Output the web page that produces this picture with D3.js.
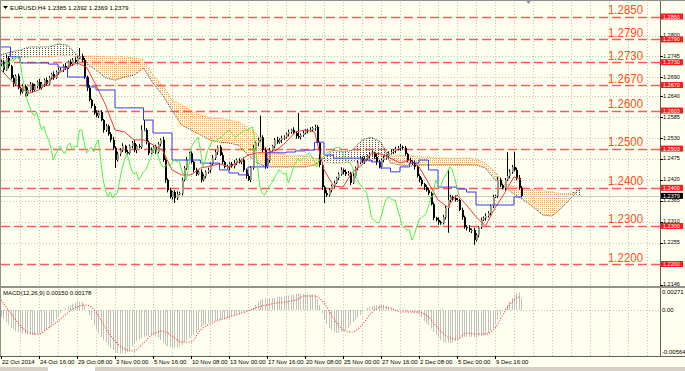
<!DOCTYPE html>
<html>
<head>
<meta charset="utf-8">
<script src="https://cdn.jsdelivr.net/npm/d3@7"></script>
<style>
  body { margin: 0; background: #fffff0; }
  svg { display: block; font-family: "Liberation Sans", Arial, sans-serif; }
</style>
</head>
<body>
<svg id="chart" width="685" height="371"></svg>
<script>
// ---- EURUSD H4 data ----
const firstOpen = 1.2725;
const closes = [
  1.2731,1.2710,1.2741,1.2720,1.2689,1.2673,1.2694,1.2662,1.2652,1.2667,
  1.2646,1.2657,1.2673,1.2657,1.2667,1.2678,1.2662,1.2673,1.2683,1.2673,
  1.2689,1.2699,1.2689,1.2704,1.2710,1.2710,1.2720,1.2715,1.2731,1.2725,
  1.2736,1.2731,1.2741,1.2746,1.2736,1.2691,1.2662,1.2631,1.2615,1.2597,
  1.2589,1.2599,1.2578,1.2552,1.2562,1.2541,1.2526,1.2505,1.2473,1.2489,
  1.2499,1.2510,1.2494,1.2491,1.2510,1.2518,1.2499,1.2510,1.2507,1.2552,
  1.2552,1.2520,1.2491,1.2499,1.2507,1.2494,1.2515,1.2526,1.2473,1.2421,
  1.2394,1.2376,1.2389,1.2373,1.2384,1.2386,1.2421,1.2452,1.2473,1.2491,
  1.2468,1.2447,1.2436,1.2442,1.2421,1.2431,1.2442,1.2447,1.2463,1.2478,
  1.2494,1.2507,1.2486,1.2468,1.2455,1.2455,1.2463,1.2457,1.2465,1.2473,
  1.2468,1.2473,1.2447,1.2431,1.2421,1.2452,1.2505,1.2518,1.2526,1.2533,
  1.2499,1.2455,1.2473,1.2499,1.2510,1.2526,1.2520,1.2526,1.2531,1.2533,
  1.2541,1.2547,1.2552,1.2544,1.2536,1.2533,1.2539,1.2544,1.2549,1.2552,
  1.2552,1.2557,1.2560,1.2518,1.2460,1.2402,1.2386,1.2381,1.2394,1.2405,
  1.2413,1.2426,1.2436,1.2447,1.2442,1.2436,1.2439,1.2413,1.2431,1.2452,
  1.2466,1.2478,1.2470,1.2476,1.2484,1.2489,1.2491,1.2481,1.2468,1.2455,
  1.2473,1.2478,1.2484,1.2491,1.2494,1.2497,1.2502,1.2505,1.2507,1.2505,
  1.2489,1.2473,1.2468,1.2465,1.2455,1.2431,1.2421,1.2410,1.2402,1.2394,
  1.2386,1.2357,1.2321,1.2316,1.2310,1.2308,1.2323,1.2347,1.2368,1.2376,
  1.2373,1.2368,1.2368,1.2342,1.2323,1.2297,1.2294,1.2289,1.2289,1.2263,
  1.2276,1.2297,1.2316,1.2321,1.2326,1.2334,1.2352,1.2376,1.2379,1.2421,
  1.2407,1.2400,1.2421,1.2431,1.2442,1.2455,1.2447,1.2426,1.2400,1.2379
];
// wick lengths beyond the body, in pips
const upWick = [
  6,4,8,5,3,7,4,6,3,5, 4,7,5,3,6,4,8,5,4,6, 5,3,7,4,6,5,4,8,3,6, 5,7,4,21,6,5,4,8,3,6,
  7,4,5,3,6,4,5,8,4,6, 5,7,3,6,4,5,8,4,6,12, 26,5,4,7,3,6,5,4,8,5, 4,6,3,5,7,4,6,5,8,4,
  5,3,6,4,7,5,4,6,3,8, 6,4,5,7,3,6,4,5,8,4, 5,3,7,4,6,5,8,4,6,57, 5,7,4,6,3,5,8,4,6,5,
  4,6,3,7,5,61,4,6,5,3, 7,4,6,5,3,6,4,8,5,4, 6,3,5,7,4,6,5,3,8,4, 5,6,4,7,3,5,6,4,8,5,
  4,6,3,5,7,4,6,5,8,4, 5,3,6,4,7,5,4,6,3,5, 6,4,5,3,7,4,6,5,79,6, 4,7,5,3,6,4,5,8,4,6,
  5,3,6,4,7,5,4,6,3,8, 6,4,5,63,7,5,40,6,8,5
];
const dnWick = [
  5,7,3,6,4,8,5,3,7,4, 6,5,4,7,3,6,5,4,8,5, 4,6,5,3,7,4,6,5,3,6, 5,4,7,3,6,5,8,4,6,5,
  4,6,3,7,5,4,6,5,21,4, 6,5,3,7,4,6,5,8,3,5, 4,6,5,3,7,5,4,6,5,8, 6,4,7,13,5,3,6,4,5,7,
  4,6,5,3,7,4,6,5,8,4, 5,7,3,6,4,5,8,4,6,5, 4,6,5,7,3,6,4,5,8,4, 6,5,4,7,3,6,5,4,8,5,
  4,6,5,3,7,4,6,5,3,6, 5,4,7,3,6,8,26,5,4,6, 5,3,6,4,7,5,4,6,3,5, 6,4,5,7,3,6,4,5,8,4,
  5,6,4,7,3,5,6,4,8,5, 4,6,3,5,7,4,6,5,8,4, 5,3,6,4,7,5,4,6,65,5, 6,4,5,3,7,4,6,5,8,13,
  4,6,5,3,7,4,6,5,3,6, 5,4,7,3,6,5,4,6,5,4
];

// Ichimoku lines, sampled every 4 bars (last sample = last bar)
const lineBars = d3.range(0, 217, 4).concat([219]);
const tenkan = [
  1.2710,1.2683,1.2662,1.2649,1.2657,1.2678,1.2699,1.2717,1.2728,1.2717,
  1.2670,1.2618,1.2552,1.2547,1.2526,1.2526,1.2513,1.2499,1.2447,1.2434,
  1.2434,1.2452,1.2457,1.2463,1.2455,1.2468,1.2486,1.2492,1.2492,1.2499,
  1.2520,1.2547,1.2552,1.2547,1.2447,1.2405,1.2402,1.2442,1.2460,1.2492,
  1.2489,1.2478,1.2465,1.2473,1.2455,1.2413,1.2368,1.2350,1.2381,1.2355,
  1.2324,1.2300,1.2347,1.2386,1.2429,1.2421
];
const kijun = [
  1.2770,1.2744,1.2728,1.2728,1.2728,1.2725,1.2717,1.2691,1.2691,1.2665,
  1.2657,1.2657,1.2610,1.2610,1.2610,1.2578,1.2544,1.2544,1.2473,1.2473,
  1.2473,1.2465,1.2465,1.2447,1.2439,1.2434,1.2455,1.2455,1.2492,1.2492,
  1.2494,1.2497,1.2499,1.2520,1.2486,1.2478,1.2478,1.2478,1.2473,1.2468,
  1.2452,1.2442,1.2455,1.2465,1.2473,1.2447,1.2402,1.2402,1.2397,1.2389,
  1.2355,1.2355,1.2355,1.2355,1.2376,1.2376
];
const chikouShift = 26;

// Kumo (already shifted 26 bars forward), sampled every 4 bars
const cloudBars = d3.range(0, 245, 4);
const spanA = [
  1.2731,1.2736,1.2741,1.2744,1.2744,1.2744,1.2746,1.2749,1.2744,1.2746,
  1.2746,1.2744,1.2744,1.2744,1.2741,1.2736,1.2696,1.2670,1.2631,1.2618,
  1.2604,1.2591,1.2583,1.2583,1.2578,1.2573,1.2560,1.2539,1.2499,1.2492,
  1.2486,1.2486,1.2484,1.2478,1.2468,1.2465,1.2465,1.2468,1.2468,1.2470,
  1.2478,1.2486,1.2486,1.2484,1.2481,1.2481,1.2478,1.2478,1.2478,1.2478,
  1.2476,1.2465,1.2442,1.2413,1.2402,1.2400,1.2394,1.2392,1.2389,1.2384,
  1.2386,1.2379
];
const spanB = [
  1.2749,1.2757,1.2762,1.2770,1.2770,1.2770,1.2778,1.2775,1.2749,1.2725,
  1.2710,1.2689,1.2683,1.2691,1.2696,1.2715,1.2675,1.2644,1.2604,1.2565,
  1.2552,1.2539,1.2526,1.2520,1.2518,1.2512,1.2486,1.2465,1.2455,1.2455,
  1.2455,1.2455,1.2455,1.2460,1.2478,1.2499,1.2494,1.2499,1.2526,1.2533,
  1.2520,1.2465,1.2460,1.2457,1.2460,1.2460,1.2460,1.2460,1.2460,1.2460,
  1.2460,1.2452,1.2421,1.2402,1.2384,1.2368,1.2350,1.2329,1.2326,1.2347,
  1.2373,1.2400
];

// MACD(12,26,9): histogram per bar, signal sampled like the lines
const macdHist = [
  -0.00090,-0.00120,-0.00155,-0.00190,-0.00232,-0.00250,-0.00270,-0.00285,-0.00297,-0.00305,
  -0.00312,-0.00318,-0.00320,-0.00322,-0.00323,-0.00318,-0.00305,-0.00290,-0.00270,-0.00258,
  -0.00235,-0.00194,-0.00160,-0.00120,-0.00080,-0.00039,-0.00005,0.00026,0.00045,0.00065,
  0.00080,0.00092,0.00103,0.00108,0.00103,0.00060,0.00000,-0.00060,-0.00129,-0.00195,
  -0.00258,-0.00305,-0.00350,-0.00387,-0.00420,-0.00455,-0.00490,-0.00515,-0.00540,-0.00555,
  -0.00560,-0.00558,-0.00555,-0.00540,-0.00516,-0.00470,-0.00426,-0.00400,-0.00378,-0.00360,
  -0.00348,-0.00338,-0.00330,-0.00323,-0.00330,-0.00345,-0.00361,-0.00390,-0.00420,-0.00452,
  -0.00470,-0.00482,-0.00490,-0.00488,-0.00482,-0.00477,-0.00455,-0.00420,-0.00387,-0.00365,
  -0.00340,-0.00318,-0.00297,-0.00258,-0.00219,-0.00200,-0.00185,-0.00170,-0.00155,-0.00148,
  -0.00140,-0.00134,-0.00129,-0.00122,-0.00115,-0.00108,-0.00103,-0.00090,-0.00075,-0.00055,
  -0.00039,-0.00030,-0.00020,-0.00013,-0.00006,0.00000,0.00030,0.00065,0.00100,0.00129,
  0.00140,0.00150,0.00155,0.00152,0.00158,0.00155,0.00162,0.00168,0.00172,0.00176,
  0.00181,0.00186,0.00192,0.00198,0.00206,0.00208,0.00210,0.00206,0.00206,0.00204,
  0.00200,0.00197,0.00194,0.00140,0.00065,-0.00040,-0.00129,-0.00185,-0.00232,-0.00262,
  -0.00285,-0.00297,-0.00295,-0.00285,-0.00272,-0.00258,-0.00230,-0.00195,-0.00155,-0.00125,
  -0.00095,-0.00065,-0.00035,-0.00005,0.00026,0.00040,0.00052,0.00060,0.00065,0.00068,
  0.00066,0.00065,0.00055,0.00040,0.00026,0.00015,0.00005,-0.00005,-0.00013,-0.00018,
  -0.00022,-0.00024,-0.00026,-0.00030,-0.00040,-0.00052,-0.00065,-0.00100,-0.00140,-0.00170,
  -0.00194,-0.00240,-0.00285,-0.00323,-0.00355,-0.00390,-0.00413,-0.00420,-0.00424,-0.00426,
  -0.00420,-0.00405,-0.00387,-0.00370,-0.00358,-0.00348,-0.00345,-0.00346,-0.00348,-0.00350,
  -0.00348,-0.00345,-0.00340,-0.00332,-0.00323,-0.00300,-0.00270,-0.00232,-0.00180,-0.00120,
  -0.00065,-0.00010,0.00030,0.00065,0.00110,0.00155,0.00190,0.00219,0.00225,0.00150
];
const macdSignal = [
  0.00129,-0.00039,-0.00194,-0.00297,-0.00310,-0.00232,-0.00142,-0.00039,0.00039,0.00065,
  -0.00026,-0.00232,-0.00400,-0.00503,-0.00529,-0.00426,-0.00310,-0.00271,-0.00336,-0.00413,
  -0.00413,-0.00258,-0.00181,-0.00129,-0.00090,-0.00052,-0.00013,0.00039,0.00065,0.00090,
  0.00103,0.00129,0.00181,0.00181,0.00090,-0.00103,-0.00258,-0.00284,-0.00194,-0.00039,
  0.00039,0.00026,-0.00026,-0.00026,-0.00026,-0.00090,-0.00232,-0.00348,-0.00374,-0.00297,
  -0.00310,-0.00310,-0.00232,-0.00026,0.00129,0.00178
];

// horizontal levels drawn by the trader
const levels = [1.2850, 1.2790, 1.2730, 1.2670, 1.2603, 1.2503, 1.2400, 1.2300, 1.2200];
const levelText = ["1.2850","1.2790","1.2730","1.2670","1.2600","1.2500","1.2400","1.2300","1.2200"];
const levelTag = ["1.2850","1.2790","1.2730","1.2670","1.2603","1.2503","1.2400","1.2300","1.2200"];

const priceTicks = [1.2800, 1.2745, 1.2690, 1.2640, 1.2585, 1.2530, 1.2475, 1.2420, 1.2365, 1.2310, 1.2255, 1.2146];
const lastPrice = 1.2379;

const timeBars = [0, 16, 32, 48, 64, 80, 96, 112, 128, 144, 160, 176, 192, 208];
const timeLabels = ["22 Oct 2014","24 Oct 16:00","29 Oct 08:00","3 Nov 00:00","5 Nov 16:00","10 Nov 08:00",
  "13 Nov 00:00","17 Nov 16:00","20 Nov 08:00","25 Nov 00:00","27 Nov 16:00","2 Dec 08:00","5 Dec 00:00","9 Dec 16:00"];
const macdTicks = [0.00271, 0.00, -0.00564];
const macdTickText = ["0.00271", "0.00", "-0.00564"];

// ---- layout ----
const svg = d3.select("#chart");
const plotR = 660, mainTop = 2, mainBot = 286, macdTop = 289, macdBot = 356;
const x = d3.scaleLinear().domain([0, 278]).range([1, 661.25]);
const y = d3.scaleLinear().domain([1.2850, 1.2200]).range([16.5, 264]);
const ym = d3.scaleLinear().domain([0.00271, -0.00564]).range([289, 353.7]);
const px = v => Math.round(v) + 0.5;

svg.append("rect").attr("width", 685).attr("height", 371).attr("fill", "#fffff0");

const defs = svg.append("defs");
const hatchA = defs.append("pattern").attr("id", "hatchA").attr("patternUnits", "userSpaceOnUse")
  .attr("width", 2).attr("height", 2);
hatchA.append("rect").attr("width", 1).attr("height", 1).attr("fill", "#f7ab55");
const hatchB = defs.append("pattern").attr("id", "hatchB").attr("patternUnits", "userSpaceOnUse")
  .attr("width", 3).attr("height", 2);
hatchB.append("rect").attr("width", 1).attr("height", 1).attr("fill", "#505050");
defs.append("clipPath").attr("id", "mainClip").append("rect")
  .attr("x", 1).attr("y", mainTop).attr("width", plotR - 1).attr("height", mainBot - mainTop);
defs.append("clipPath").attr("id", "macdClip").append("rect")
  .attr("x", 1).attr("y", macdTop).attr("width", plotR - 1).attr("height", macdBot - macdTop);

// grid
const gridBars = d3.range(8, 279, 8);
const grid = svg.append("g").attr("stroke", "#c4c4b8").attr("stroke-dasharray", "1,2");
grid.selectAll(".gv").data(gridBars).join("line")
  .attr("x1", d => px(x(d))).attr("x2", d => px(x(d))).attr("y1", mainTop).attr("y2", mainBot);
grid.selectAll(".gm").data(gridBars).join("line")
  .attr("x1", d => px(x(d))).attr("x2", d => px(x(d))).attr("y1", macdTop).attr("y2", macdBot);
grid.selectAll(".gh").data(priceTicks.slice(0, -1)).join("line")
  .attr("x1", 1).attr("x2", plotR).attr("y1", d => px(y(d))).attr("y2", d => px(y(d)));
grid.append("line").attr("x1", 1).attr("x2", plotR).attr("y1", px(ym(0))).attr("y2", px(ym(0)));

const main = svg.append("g").attr("clip-path", "url(#mainClip)");

// kumo
const cloud = cloudBars.map((b, k) => ({ b, a: spanA[k], s: spanB[k] }));
main.append("path").datum(cloud).attr("fill", "url(#hatchA)")
  .attr("d", d3.area().x(d => x(d.b)).y0(d => y(d.s)).y1(d => y(Math.max(d.a, d.s))));
main.append("path").datum(cloud).attr("fill", "url(#hatchB)")
  .attr("d", d3.area().x(d => x(d.b)).y0(d => y(d.a)).y1(d => y(Math.max(d.a, d.s))));
main.append("path").datum(cloud).attr("fill", "none").attr("stroke", "#f0a050")
  .attr("stroke-dasharray", "1,1").attr("d", d3.line().x(d => x(d.b)).y(d => y(d.a)));
main.append("path").datum(cloud).attr("fill", "none").attr("stroke", "#444")
  .attr("stroke-dasharray", "1,1").attr("d", d3.line().x(d => x(d.b)).y(d => y(d.s)));

// trader levels and bid line
main.selectAll(".lvl").data(levels).join("line")
  .attr("x1", 1).attr("x2", plotR).attr("y1", d => px(y(d))).attr("y2", d => px(y(d)))
  .attr("stroke", "#ff5a5a").attr("stroke-width", 1.4).attr("stroke-dasharray", "9,4");
main.append("line").attr("x1", 1).attr("x2", plotR)
  .attr("y1", px(y(lastPrice))).attr("y2", px(y(lastPrice))).attr("stroke", "#c8c8c0");

// candles
const bars = closes.map((c, i) => {
  const o = i === 0 ? firstOpen : closes[i - 1];
  return { i, o, c, h: Math.max(o, c) + upWick[i] / 1e4, l: Math.min(o, c) - dnWick[i] / 1e4 };
});
const cg = main.append("g");
cg.selectAll("line").data(bars).join("line")
  .attr("x1", d => Math.round(x(d.i)) + 0.5).attr("x2", d => Math.round(x(d.i)) + 0.5)
  .attr("y1", d => y(d.h)).attr("y2", d => y(d.l)).attr("stroke", "#000");
cg.selectAll("rect").data(bars).join("rect")
  .attr("x", d => Math.round(x(d.i)))
  .attr("y", d => y(Math.max(d.o, d.c)))
  .attr("width", 2)
  .attr("height", d => Math.max(1, Math.abs(y(d.o) - y(d.c))))
  .attr("fill", d => d.c >= d.o ? "#9a9a86" : "#000");

// tenkan / kijun / chikou
main.append("path").datum(lineBars.map((b, k) => [b, tenkan[k]]))
  .attr("fill", "none").attr("stroke", "#f03a3a")
  .attr("d", d3.line().x(d => x(d[0])).y(d => y(d[1])));
main.append("path").datum(lineBars.map((b, k) => [b, kijun[k]]))
  .attr("fill", "none").attr("stroke", "#3a3af0")
  .attr("d", d3.line().curve(d3.curveStepAfter).x(d => x(d[0])).y(d => y(d[1])));
main.append("path").datum(closes.map((c, i) => [i - chikouShift, c]))
  .attr("fill", "none").attr("stroke", "#50ee50")
  .attr("d", d3.line().x(d => x(d[0])).y(d => y(d[1])));

// big level captions
svg.selectAll(".cap").data(levels).join("text")
  .attr("x", 608).attr("y", d => y(d) - 2.5)
  .attr("font-size", 13).attr("fill", "#ff4a1a")
  .attr("textLength", 35).attr("lengthAdjust", "spacingAndGlyphs")
  .text((d, k) => levelText[k]);

// frame lines
svg.append("line").attr("x1", plotR + 0.5).attr("x2", plotR + 0.5).attr("y1", 0).attr("y2", macdBot)
  .attr("stroke", "#606060");
svg.append("rect").attr("x", 0).attr("y", mainBot).attr("width", 685).attr("height", 2).attr("fill", "#909090");
svg.append("line").attr("x1", 0).attr("x2", 685).attr("y1", 0.5).attr("y2", 0.5).attr("stroke", "#909090");
svg.append("line").attr("x1", 0.5).attr("x2", 0.5).attr("y1", 0).attr("y2", macdBot).attr("stroke", "#909090");
svg.append("line").attr("x1", 0).attr("x2", 685).attr("y1", macdBot + 0.5).attr("y2", macdBot + 0.5).attr("stroke", "#606060");

// price axis
const ax = svg.append("g").attr("font-size", 5.5).attr("fill", "#000");
ax.selectAll("line").data(priceTicks).join("line")
  .attr("x1", plotR).attr("x2", plotR + 3).attr("y1", d => px(y(d))).attr("y2", d => px(y(d)))
  .attr("stroke", "#000");
ax.selectAll("text").data(priceTicks).join("text")
  .attr("x", 663).attr("y", d => y(d) + 1.2).text(d => d.toFixed(4));

const tags = svg.append("g").attr("font-size", 5.5);
tags.selectAll("rect").data(levels).join("rect")
  .attr("x", 661).attr("y", d => y(d) - 3).attr("width", 22).attr("height", 6).attr("fill", "#ff1a1a");
tags.selectAll("text").data(levels).join("text")
  .attr("x", 663).attr("y", d => y(d) + 2).attr("fill", "#fff").text((d, k) => levelTag[k]);
tags.append("rect").attr("x", 661).attr("y", y(lastPrice) - 3).attr("width", 22).attr("height", 6).attr("fill", "#000");
tags.append("text").attr("x", 663).attr("y", y(lastPrice) + 2).attr("fill", "#fff").text(lastPrice.toFixed(4));

// header
svg.append("path").attr("d", "M3,6 L8,6 L5.5,9 Z").attr("fill", "#000");
svg.append("text").attr("x", 10).attr("y", 10).attr("font-size", 6.2)
  .text("EURUSD,H4  1.2385 1.2392 1.2369 1.2379");
svg.append("path").attr("d", `M${px(x(222)) - 3},0 L${px(x(222)) + 3},0 L${px(x(222))},4 Z`).attr("fill", "#9090a0");

// ---- MACD panel ----
const mg = svg.append("g").attr("clip-path", "url(#macdClip)");
mg.selectAll("line").data(macdHist).join("line")
  .attr("x1", (d, i) => Math.round(x(i)) + 0.5).attr("x2", (d, i) => Math.round(x(i)) + 0.5)
  .attr("y1", ym(0)).attr("y2", d => ym(d)).attr("stroke", "#c0c0c0");
mg.append("path").datum(lineBars.map((b, k) => [b, macdSignal[k]]))
  .attr("fill", "none").attr("stroke", "#ff3030").attr("stroke-width", 1.1).attr("stroke-dasharray", "1,1.6")
  .attr("d", d3.line().curve(d3.curveMonotoneX).x(d => x(d[0])).y(d => ym(d[1])));
svg.append("text").attr("x", 3).attr("y", 295).attr("font-size", 6).text("MACD(12,26,9) 0.00150 0.00178");

const mx = svg.append("g").attr("font-size", 6);
mx.selectAll("text").data(macdTicks).join("text")
  .attr("x", 662).attr("y", (d, k) => k === 0 ? ym(d) + 5 : (k === 2 ? ym(d) : ym(d) + 2))
  .text((d, k) => macdTickText[k]);

// time axis
const tx = svg.append("g").attr("font-size", 6);
tx.selectAll("line").data(timeBars).join("line")
  .attr("x1", d => px(x(d))).attr("x2", d => px(x(d))).attr("y1", macdBot).attr("y2", macdBot + 3)
  .attr("stroke", "#000");
tx.selectAll("text").data(timeBars).join("text")
  .attr("x", d => x(d) + 1).attr("y", 364).text((d, k) => timeLabels[k]);

// tab strip
svg.append("rect").attr("x", 0).attr("y", 367).attr("width", 685).attr("height", 4).attr("fill", "#d4d0c8");
svg.append("rect").attr("x", 48).attr("y", 367).attr("width", 47).attr("height", 4).attr("fill", "#fff");
</script>
</body>
</html>
